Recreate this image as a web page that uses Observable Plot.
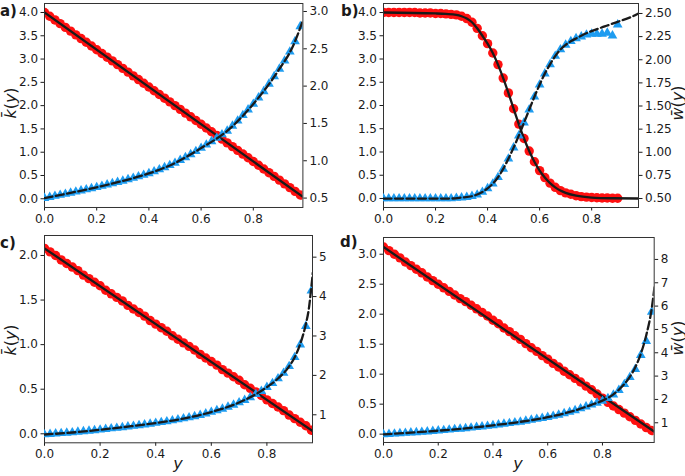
<!DOCTYPE html>
<html><head><meta charset="utf-8">
<script src="https://cdn.jsdelivr.net/npm/d3@7"></script>
<script src="https://cdn.jsdelivr.net/npm/@observablehq/plot@0.6"></script>
<style>
body{margin:0;background:#fff;}
#fig{position:relative;width:685px;height:476px;overflow:hidden;font-family:"DejaVu Sans",sans-serif;color:#1a1a1a;}
#fig svg{position:absolute;overflow:visible;}
.lab{position:absolute;white-space:nowrap;transform:translate(-50%,-50%);font-size:16px;}
.rot{transform:translate(-50%,-50%) rotate(-90deg);}
.let{position:absolute;font-weight:bold;font-size:15px;}
</style></head><body><div id="fig"></div>
<script>
// shared x grid (y variable) of the markers
const grid = [0.00,0.02,0.04,0.06,0.08,0.10,0.12,0.14,0.16,0.18,0.20,0.22,0.24,0.26,0.28,0.30,0.32,0.34,0.36,0.38,0.40,0.42,0.44,0.46,0.48,0.50,0.52,0.54,0.56,0.58,0.60,0.62,0.64,0.66,0.68,0.70,0.72,0.74,0.76,0.78,0.80,0.82,0.84,0.86,0.88,0.90,0.92,0.94,0.96,0.98];
const xTicks = [0, 0.2, 0.4, 0.6, 0.8];

// panel a
const kA = [4.00,3.92,3.84,3.76,3.68,3.60,3.52,3.44,3.36,3.28,3.20,3.12,3.04,2.96,2.88,2.80,2.72,2.64,2.56,2.48,2.40,2.32,2.24,2.16,2.08,2.00,1.92,1.84,1.76,1.68,1.60,1.52,1.44,1.36,1.28,1.20,1.12,1.04,0.96,0.88,0.80,0.72,0.64,0.56,0.48,0.40,0.32,0.24,0.16,0.08];
const wA = [0.500,0.513,0.527,0.541,0.555,0.570,0.585,0.600,0.615,0.630,0.645,0.662,0.679,0.696,0.713,0.730,0.750,0.769,0.789,0.809,0.830,0.856,0.883,0.911,0.940,0.970,1.008,1.046,1.086,1.127,1.170,1.214,1.259,1.305,1.352,1.400,1.467,1.536,1.610,1.685,1.760,1.845,1.930,2.030,2.130,2.230,2.340,2.460,2.600,2.800];
const kLineAx = [0, 0.99], kLineAv = [4.0, 0.04];
const wLineAx = [0,0.1,0.2,0.3,0.4,0.5,0.6,0.7,0.8,0.9,0.95,0.99];
const wLineAv = [0.50,0.57,0.645,0.73,0.83,0.97,1.17,1.40,1.76,2.23,2.52,2.88];
const kTicksA = [0,0.5,1,1.5,2,2.5,3,3.5,4], wTicksA = [0.5,1,1.5,2,2.5,3];

// panel b
const kB = [4.00,4.00,4.00,4.00,4.00,4.00,4.00,3.99,3.99,3.99,3.98,3.98,3.97,3.96,3.95,3.92,3.87,3.79,3.66,3.50,3.33,3.13,2.88,2.59,2.27,1.93,1.60,1.29,1.02,0.79,0.60,0.45,0.33,0.24,0.17,0.12,0.09,0.06,0.04,0.03,0.02,0.015,0.01,0.01,0.005,0.005];
const wB = [0.50,0.50,0.50,0.50,0.50,0.50,0.50,0.50,0.50,0.50,0.50,0.50,0.50,0.50,0.505,0.51,0.515,0.525,0.54,0.57,0.61,0.66,0.73,0.82,0.93,1.05,1.18,1.32,1.46,1.60,1.73,1.85,1.95,2.04,2.11,2.16,2.20,2.23,2.25,2.27,2.28,2.28,2.28,2.29,2.26,2.38];
const kLineBx = [0,0.2,0.24,0.28,0.30,0.32,0.34,0.36,0.38,0.40,0.42,0.44,0.46,0.48,0.50,0.52,0.54,0.56,0.58,0.60,0.62,0.64,0.66,0.68,0.70,0.74,0.80,0.88,0.98];
const kLineBv = [4.00,3.98,3.97,3.95,3.92,3.87,3.79,3.66,3.50,3.33,3.13,2.88,2.59,2.27,1.93,1.60,1.29,1.02,0.79,0.60,0.45,0.33,0.24,0.17,0.12,0.06,0.02,0.005,0.0];
const wLineBx = [0,0.26,0.30,0.34,0.38,0.40,0.42,0.44,0.46,0.48,0.50,0.52,0.54,0.56,0.58,0.60,0.62,0.64,0.66,0.68,0.70,0.72,0.74,0.76,0.80,0.85,0.90,0.95,0.98];
const wLineBv = [0.50,0.50,0.51,0.525,0.57,0.61,0.66,0.73,0.82,0.93,1.05,1.18,1.32,1.46,1.60,1.73,1.85,1.95,2.04,2.11,2.16,2.20,2.23,2.26,2.31,2.36,2.41,2.46,2.50];
const kTicksB = [0,0.5,1,1.5,2,2.5,3,3.5,4], wTicksB = [0.5,0.75,1,1.25,1.5,1.75,2,2.25,2.5];

// panel c
const kC = [2.08,2.04,2.00,1.95,1.91,1.87,1.83,1.78,1.74,1.70,1.66,1.61,1.57,1.53,1.49,1.44,1.40,1.36,1.32,1.27,1.23,1.19,1.15,1.10,1.06,1.02,0.98,0.94,0.89,0.85,0.81,0.77,0.72,0.68,0.64,0.60,0.55,0.51,0.47,0.43,0.38,0.34,0.30,0.26,0.21,0.17,0.13,0.09,0.04];
const wC = [0.50,0.51,0.52,0.53,0.54,0.55,0.565,0.58,0.59,0.605,0.62,0.635,0.65,0.665,0.68,0.70,0.715,0.73,0.75,0.77,0.79,0.81,0.83,0.855,0.88,0.905,0.93,0.96,0.99,1.03,1.07,1.11,1.15,1.20,1.25,1.31,1.37,1.44,1.52,1.60,1.70,1.80,1.92,2.06,2.23,2.46,2.78,3.25,4.15];
const kLineCx = [0, 0.965], kLineCv = [2.08, 0.03];
const wLineCx = [0,0.1,0.2,0.3,0.4,0.5,0.6,0.7,0.76,0.8,0.84,0.88,0.9,0.92,0.94,0.95,0.96,0.965];
const wLineCv = [0.50,0.55,0.62,0.70,0.79,0.905,1.07,1.31,1.52,1.70,1.92,2.23,2.46,2.80,3.30,3.65,4.25,4.60];
const kTicksC = [0,0.5,1,1.5,2], wTicksC = [1,2,3,4,5];

// panel d
const kD = [3.12,3.06,3.00,2.94,2.87,2.81,2.75,2.69,2.62,2.56,2.50,2.44,2.38,2.32,2.26,2.21,2.15,2.09,2.03,1.97,1.90,1.84,1.77,1.71,1.64,1.58,1.51,1.44,1.38,1.31,1.25,1.18,1.12,1.05,0.99,0.93,0.87,0.80,0.74,0.67,0.60,0.53,0.47,0.41,0.35,0.29,0.23,0.17,0.11,0.06];
const wD = [0.50,0.515,0.53,0.545,0.56,0.575,0.59,0.605,0.62,0.64,0.66,0.68,0.70,0.72,0.74,0.76,0.785,0.81,0.835,0.86,0.89,0.92,0.95,0.98,1.01,1.04,1.08,1.12,1.16,1.20,1.24,1.29,1.34,1.40,1.46,1.53,1.61,1.69,1.77,1.85,1.93,2.05,2.20,2.40,2.65,2.95,3.30,3.90,4.50,5.75];
const kLineDx = [0, 0.99], kLineDv = [3.12, 0.04];
const wLineDx = [0,0.1,0.2,0.3,0.4,0.5,0.6,0.7,0.76,0.8,0.84,0.88,0.9,0.92,0.94,0.96,0.98,0.99];
const wLineDv = [0.50,0.575,0.66,0.76,0.89,1.04,1.24,1.53,1.77,1.95,2.22,2.66,2.97,3.38,3.95,4.75,5.90,6.80];
const kTicksD = [0,0.5,1,1.5,2,2.5,3], wTicksD = [1,2,3,4,5,6,7,8];

const RED = "#ff1010", BLUE = "#1e9cf0", INK = "#1a1a1a";
const fig = document.getElementById("fig");
const pts = (xs, vs) => vs.map((v, i) => ({x: xs[i], v}));

function panel(o) {
  const m = {l: 46, r: 46, t: 12, b: 30};
  const base = {
    width: o.w + m.l + m.r, height: o.h + m.t + m.b,
    marginLeft: m.l, marginRight: m.r, marginTop: m.t, marginBottom: m.b,
    style: {background: "transparent", fontSize: "12px", fontFamily: "DejaVu Sans, sans-serif", color: INK}
  };
  const p1 = Plot.plot({
    ...base,
    x: {domain: o.xDom},
    y: {domain: o.kDom},
    marks: [
      Plot.dot(pts(grid, o.k), {x: "x", y: "v", r: 4.7, fill: RED, stroke: "none", clip: true}),
      Plot.line(pts(o.kLx, o.kLv), {x: "x", y: "v", stroke: INK, strokeWidth: 2.3, curve: "monotone-x", clip: true}),
      Plot.axisX({ticks: xTicks, tickFormat: ".1f", tickSize: 3.5, tickPadding: 3, label: null}),
      Plot.axisY({ticks: o.kTicks, tickFormat: ".1f", tickSize: 3.5, tickPadding: 3, label: null}),
      Plot.frame({stroke: "#333", strokeWidth: 1})
    ]
  });
  const p2 = Plot.plot({
    ...base,
    x: {domain: o.xDom, axis: null},
    y: {domain: o.wDom},
    marks: [
      Plot.dot(pts(grid, o.wv), {x: "x", y: "v", r: 3.6, symbol: "triangle", fill: BLUE, stroke: "none", clip: true}),
      Plot.line(pts(o.wLx, o.wLv), {x: "x", y: "v", stroke: INK, strokeWidth: 2.3, strokeDasharray: "8,3.5", curve: "monotone-x", clip: true}),
      Plot.axisY({anchor: "right", ticks: o.wTicks, tickFormat: o.wFmt, tickSize: 3.5, tickPadding: 3, label: null})
    ]
  });
  for (const p of [p1, p2]) {
    p.style.left = (o.left - m.l) + "px";
    p.style.top = (o.top - m.t) + "px";
    fig.appendChild(p);
  }
}

panel({left: 44.3, top: 2.7, w: 258.4, h: 204, xDom: [0, 0.99], kDom: [-0.187, 4.193], wDom: [0.374, 3.107],
  k: kA, wv: wA, kLx: kLineAx, kLv: kLineAv, wLx: wLineAx, wLv: wLineAv, kTicks: kTicksA, wTicks: wTicksA, wFmt: ".1f"});
panel({left: 383.3, top: 2.7, w: 255, h: 204, xDom: [0, 0.98], kDom: [-0.194, 4.194], wDom: [0.403, 2.608],
  k: kB, wv: wB, kLx: kLineBx, kLv: kLineBv, wLx: wLineBx, wLv: wLineBv, kTicks: kTicksB, wTicks: wTicksB, wFmt: ".2f"});
panel({left: 44.3, top: 235, w: 268, h: 207.3, xDom: [0, 0.964], kDom: [-0.101, 2.224], wDom: [0.289, 5.55],
  k: kC, wv: wC, kLx: kLineCx, kLv: kLineCv, wLx: wLineCx, wLv: wLineCv, kTicks: kTicksC, wTicks: wTicksC, wFmt: "d"});
panel({left: 383.3, top: 237.3, w: 270.7, h: 205, xDom: [0, 0.989], kDom: [-0.139, 3.279], wDom: [0.155, 8.94],
  k: kD, wv: wD, kLx: kLineDx, kLv: kLineDv, wLx: wLineDx, wLv: wLineDv, kTicks: kTicksD, wTicks: wTicksD, wFmt: "d"});

function addLabel(html, x, y, cls) {
  const d = document.createElement("div");
  d.className = cls; d.innerHTML = html;
  d.style.left = x + "px"; d.style.top = y + "px";
  fig.appendChild(d);
}
const kLab = "<i>k&#772;</i>(<i>y</i>)", wLab = "<i>w&#772;</i>(<i>y</i>)";
addLabel(kLab, 10, 103, "lab rot");
addLabel(kLab, 10, 340, "lab rot");
addLabel(wLab, 677, 103, "lab rot");
addLabel(wLab, 677, 338, "lab rot");
addLabel("<i>y</i>", 178, 463, "lab");
addLabel("<i>y</i>", 518, 463, "lab");
const letters = [["a)", 0, 2], ["b)", 341, 2], ["c)", 0, 234], ["d)", 340, 233]];
for (const [t, x, y] of letters) addLabel(t, x, y, "let");
</script></body></html>
